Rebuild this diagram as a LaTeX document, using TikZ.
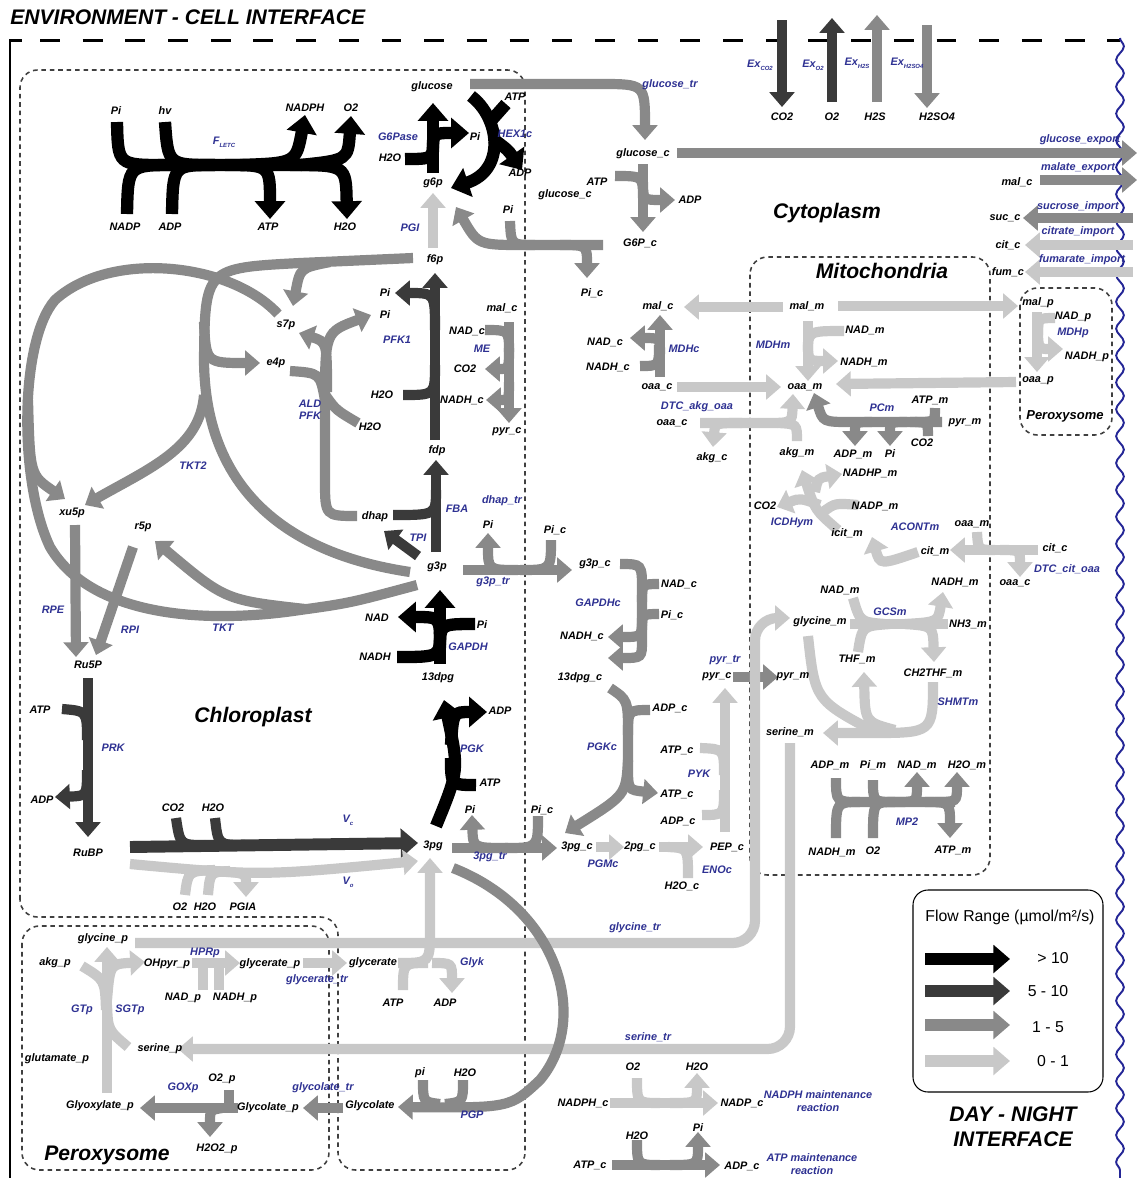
\documentclass[tikz,border=0pt]{standalone}
\usepackage{fontspec}
\setmainfont{Liberation Sans}
\usetikzlibrary{arrows.meta,decorations.pathmorphing}

\definecolor{fluxblack}{RGB}{0,0,0}
\definecolor{fluxdark}{RGB}{58,58,58}
\definecolor{fluxmed}{RGB}{137,137,137}
\definecolor{fluxlight}{RGB}{200,200,200}
\definecolor{enzblue}{RGB}{46,49,146}
\definecolor{compgray}{RGB}{64,64,64}
\definecolor{waveblue}{RGB}{36,38,150}

\newcommand\metfont{\fontsize{6.2}{7}\selectfont\bfseries\itshape}
\newcommand\bigfont{\fontsize{12}{14}\selectfont\bfseries\itshape}
\newcommand\midfont{\fontsize{7.4}{8}\selectfont\bfseries\itshape}
\newcommand\legfont{\fontsize{9}{10}\selectfont}
\newcommand\lsub[1]{\raisebox{-0.45ex}{\fontsize{3.4}{4}\selectfont #1}}

\tikzset{
  flux/.style = {line width=5.8pt},
  fblack/.style = {flux, draw=fluxblack, line width=7pt},
  fdark/.style = {flux, draw=fluxdark},
  fmed/.style = {flux, draw=fluxmed},
  flight/.style = {flux, draw=fluxlight},
  arr/.style = {-{Triangle[length=0pt 1.45, width=0pt 2.4]}},
  met/.style = {font=\metfont, inner sep=0.5pt},
  enz/.style = {met, text=enzblue},
  compart/.style = {draw=compgray, line width=0.9pt, dash pattern=on 2.6pt off 2.2pt, rounded corners=0.35cm},
  bigtitle/.style = {font=\bigfont, inner sep=0pt},
  legtext/.style = {font=\legfont, inner sep=0.5pt}
}

\begin{document}
\begin{tikzpicture}[x=0.02cm, y=-0.02cm]
  \useasboundingbox (0,0) rectangle (1137,1178);

  % environment frame
  \node[bigtitle, anchor=west] (envlbl) at (10,17) {ENVIRONMENT - CELL INTERFACE};
  \draw[line width=1.7pt] (10,1178) -- (10,40) -- (22,40);
  \draw[line width=1.7pt, dash pattern=on 11.3pt off 13pt] (40,40) -- (1120,40);
  \draw[waveblue, line width=1.1pt, decorate, decoration={snake, amplitude=2.2pt, segment length=15.3pt}] (1120,38) -- (1120,1178);

  % compartments
  \draw[compart] (20,917) -- (20,70) -- (525,70) -- (525,1170) -- (338,1170) -- (338,917) -- cycle;
  \draw[compart] (22,926) rectangle (329,1170);
  \draw[compart] (750,257) rectangle (990,875);
  \draw[compart] (1020,288) rectangle (1112,435);
  \draw[rounded corners=0.3cm, line width=0.6pt] (913,890) rectangle (1103,1092);

  % exchange fluxes
  \draw[fdark,arr] (782,20) -- (782,107);
  \draw[fdark,arr] (832,102) -- (832,18);
  \draw[fmed,arr] (877,102) -- (877,15);
  \draw[fmed,arr] (927,25) -- (927,108);

  % light reactions
  \draw[fblack] (117,122) .. controls (118,165) .. (165,165) -- (325,165);
  \draw[fblack] (165,122) .. controls (168,165) .. (215,165);
  \draw[fblack] (127,214) .. controls (128,165) .. (175,165);
  \draw[fblack] (172,214) .. controls (173,165) .. (215,165);
  \draw[fblack,arr] (225,165) .. controls (270,165) .. (270,219);
  \draw[fblack,arr] (240,165) .. controls (296,163) .. (305,115);
  \draw[fblack,arr] (290,165) .. controls (346,165) .. (347,219);
  \draw[fblack,arr] (300,165) .. controls (348,160) .. (351,116);

  % G6Pase and HEX1c
  \draw[fblack,arr] (433,173) -- (433,103);
  \draw[fblack] (405,159) .. controls (433,159) .. (433,140);
  \draw[fblack,arr] (433,152) .. controls (433,133) .. (469,133);
  \draw[fblack,arr] (471,96) .. controls (500,118) and (506,170) .. (451,188);
  \draw[fblack] (506,104) -- (490,122);
  \draw[fblack,arr] (492,138) .. controls (508,150) .. (522,170);
  \draw[flight,arr] (433,248) -- (433,193);

  % glucose transport and export
  \draw[fmed,arr] (470,84) -- (600,84) .. controls (645,84) .. (645,140);
  \draw[fmed,arr] (677,153) -- (1137,153);
  \draw[fmed,arr] (643,164) -- (643,232);
  \draw[fmed] (615,176) .. controls (643,176) .. (643,198);
  \draw[fmed,arr] (643,182) .. controls (643,200) .. (675,200);
  \draw[fmed,arr] (603,245) -- (525,245) .. controls (478,245) .. (456,207);
  \draw[fmed] (510,221) .. controls (511,245) .. (535,245);
  \draw[fmed,arr] (560,245) .. controls (587,245) .. (587,278);

  % malic enzyme
  \draw[fmed,arr] (509,322) -- (509,423);
  \draw[fmed] (485,330) .. controls (509,330) .. (509,352);
  \draw[fmed,arr] (509,348) .. controls (509,369) .. (485,369);
  \draw[fmed,arr] (509,382) .. controls (509,400) .. (486,400);

  % PFK1, ALD PFK, FBA, TPI
  \draw[fdark,arr] (435,440) -- (435,273);
  \draw[fdark,arr] (435,330) .. controls (435,293) .. (395,293);
  \draw[fdark] (403,395) .. controls (435,395) .. (435,365);
  \draw[fmed] (357,516) .. controls (325,516) .. (325,480) -- (325,395);
  \draw[fmed,arr] (325,405) .. controls (325,332) .. (371,315);
  \draw[fmed,arr] (327,392) .. controls (327,342) .. (299,333);
  \draw[fmed] (290,371) .. controls (320,373) .. (325,400);
  \draw[fmed] (358,423) .. controls (336,410) .. (326,396);
  \draw[fdark,arr] (436,552) -- (436,460);
  \draw[fdark] (393,515) .. controls (436,515) .. (436,490);
  \draw[fdark,arr] (418,556) -- (384,531);

  % transketolase cycle
  \draw[fmed] (413,258) -- (300,263) .. controls (205,268) .. (204,360) .. controls (205,520) and (330,560) .. (410,572);
  \draw[fmed,arr] (330,262) .. controls (300,268) .. (293,306);
  \draw[fmed,arr] (204,322) .. controls (206,363) .. (260,363);
  \draw[fmed,arr] (204,395) .. controls (200,448) and (150,468) .. (85,505);
  \draw[fmed] (278,314) .. controls (230,262) and (110,250) .. (55,300) .. controls (20,340) and (18,480) .. (50,547) .. controls (90,615) and (200,625) .. (300,610) .. controls (350,603) .. (417,585);
  \draw[fmed,arr] (28,400) .. controls (30,475) .. (65,499);
  \draw[fmed,arr] (305,609) .. controls (225,600) .. (155,541);
  \draw[fmed,arr] (75,525) -- (76,657);
  \draw[fmed,arr] (133,547) -- (96,655);

  % PRK and rubisco
  \draw[fdark,arr] (88,678) -- (88,837);
  \draw[fdark] (62,709) .. controls (87,711) .. (87,740);
  \draw[fdark,arr] (87,770) .. controls (87,796) .. (55,797);
  \draw[fdark,line width=6.8pt,arr] (130,847) -- (418,843);
  \draw[fdark] (176,818) .. controls (180,845) .. (205,845);
  \draw[fdark] (215,818) .. controls (218,845) .. (245,845);
  \draw[flight,arr] (130,864) .. controls (260,876) .. (418,861);
  \draw[flight] (185,895) .. controls (188,871) .. (215,870);
  \draw[flight] (208,895) .. controls (210,872) .. (230,871);
  \draw[flight,arr] (215,871) .. controls (246,873) .. (246,897);

  % PGK and GAPDH
  \draw[fblack,arr] (436,826) .. controls (459,770) .. (444,700);
  \draw[fblack,arr] (451,745) .. controls (453,712) .. (487,712);
  \draw[fblack] (476,785) .. controls (451,785) .. (451,758);
  \draw[fblack,arr] (440,664) -- (440,590);
  \draw[fblack,arr] (440,645) .. controls (440,617) .. (398,617);
  \draw[fblack] (475,624) .. controls (440,624) .. (440,648);
  \draw[fblack] (397,657) .. controls (440,657) .. (440,632);

  % triose and 3pg transport
  \draw[fmed,arr] (452,848) -- (557,848);
  \draw[fmed,arr] (508,848) .. controls (473,848) .. (472,815);
  \draw[fmed] (538,816) .. controls (538,848) .. (505,848);
  \draw[fmed,arr] (463,570) -- (572,570);
  \draw[fmed,arr] (518,570) .. controls (488,570) .. (488,533);
  \draw[fmed] (551,540) .. controls (551,570) .. (520,570);

  % cytosolic glycolysis
  \draw[fmed,arr] (620,564) .. controls (642,564) .. (642,590) -- (642,640) .. controls (642,658) .. (608,658);
  \draw[fmed] (659,584) .. controls (642,584) .. (642,602);
  \draw[fmed] (659,614) .. controls (642,614) .. (642,630);
  \draw[fmed,arr] (642,618) .. controls (642,637) .. (608,637);
  \draw[fmed,arr] (610,688) .. controls (628,700) .. (628,735) -- (628,765) .. controls (628,790) .. (658,793);
  \draw[fmed,arr] (628,760) .. controls (626,795) .. (565,833);
  \draw[fmed] (650,710) .. controls (628,710) .. (628,735);
  \draw[flight,arr] (596,847) -- (624,847);
  \draw[flight,arr] (659,847) -- (703,847);
  \draw[flight] (688,878) .. controls (688,848) .. (668,847);
  \draw[flight,arr] (725,832) -- (725,688);
  \draw[flight] (700,748) .. controls (724,749) .. (724,775);
  \draw[flight] (702,815) .. controls (724,815) .. (724,790);
  \draw[fmed,arr] (733,677) -- (778,677);

  % malate and oaa
  \draw[fmed,arr] (660,377) -- (660,315);
  \draw[fmed,arr] (660,354) .. controls (660,338) .. (630,338);
  \draw[fmed] (640,366) .. controls (659,366) .. (659,345);
  \draw[flight,arr] (783,307) -- (684,307);
  \draw[flight,arr] (838,306) -- (1018,306);
  \draw[flight,arr] (808,321) -- (808,381);
  \draw[flight] (844,331) .. controls (808,331) .. (808,352);
  \draw[flight,arr] (808,342) .. controls (808,361) .. (838,361);
  \draw[flight,arr] (677,387) -- (781,387);
  \draw[flight,arr] (1016,382) -- (836,384);
  \draw[flight,arr] (700,423) -- (765,423) .. controls (792,423) .. (793,394);
  \draw[flight] (797,441) .. controls (797,424) .. (778,423);
  \draw[flight,arr] (742,423) .. controls (715,423) .. (713,447);

  % mitochondrial reactions
  \draw[fmed,arr] (942,422) -- (852,422) .. controls (823,422) .. (814,393);
  \draw[fmed] (935,408) .. controls (935,422) .. (915,422);
  \draw[fmed] (928,436) .. controls (928,422) .. (910,422);
  \draw[fmed,arr] (872,422) .. controls (855,422) .. (855,446);
  \draw[fmed,arr] (907,422) .. controls (890,422) .. (890,446);
  \draw[flight,arr] (838,530) .. controls (815,510) .. (802,470);
  \draw[flight,arr] (820,505) .. controls (800,498) .. (777,507);
  \draw[flight,arr] (815,492) .. controls (818,478) .. (842,474);
  \draw[flight] (858,505) .. controls (835,503) .. (823,512);
  \draw[flight,arr] (918,552) .. controls (880,565) .. (872,537);
  \draw[flight,arr] (1038,550) -- (950,550);
  \draw[flight] (977,532) .. controls (978,550) .. (995,550);
  \draw[flight,arr] (1000,550) .. controls (1020,550) .. (1020,577);
  \draw[flight] (850,624) -- (948,624);
  \draw[flight,arr] (905,624) .. controls (938,622) .. (943,592);
  \draw[flight] (853,598) .. controls (860,622) .. (885,624);
  \draw[flight] (858,652) .. controls (862,626) .. (890,624);
  \draw[flight,arr] (905,624) .. controls (933,626) .. (934,662);
  \draw[flight,arr] (933,682) .. controls (933,733) .. (870,733) -- (823,733);
  \draw[flight] (808,636) .. controls (815,700) .. (875,732);
  \draw[flight,arr] (895,730) .. controls (865,722) .. (864,672);
  \draw[fmed] (836,778) .. controls (836,802) .. (860,802) -- (955,802);
  \draw[fmed] (836,838) .. controls (836,802) .. (860,802);
  \draw[fmed] (873,780) .. controls (873,802) .. (895,802);
  \draw[fmed] (873,838) .. controls (873,802) .. (895,802);
  \draw[fmed,arr] (895,802) .. controls (917,802) .. (917,772);
  \draw[fmed,arr] (935,802) .. controls (957,802) .. (957,772);
  \draw[fmed,arr] (925,802) .. controls (950,802) .. (950,838);

  % glycine and serine shuttle
  \draw[flight,arr,rounded corners=0.45cm] (135,943) -- (755,943) -- (755,618) -- (790,618);
  \draw[flight,arr,rounded corners=0.45cm] (790,743) -- (790,1049) -- (178,1049);

  % photorespiration
  \draw[flight,arr] (398,963) .. controls (430,963) .. (430,930) -- (430,858);
  \draw[flight] (403,990) .. controls (403,963) .. (428,963);
  \draw[flight,arr] (432,963) .. controls (452,963) .. (452,993);
  \draw[flight,arr] (303,963) -- (347,963);
  \draw[flight,arr] (192,963) -- (240,963);
  \draw[flight] (203,990) -- (203,963);
  \draw[flight] (219,990) -- (219,963);
  \draw[flight,arr] (107,1093) -- (107,947);
  \draw[flight] (82,966) .. controls (105,980) .. (106,1010);
  \draw[flight,arr] (107,1000) .. controls (110,964) .. (145,962);
  \draw[flight] (128,1047) .. controls (108,1030) .. (107,1005);
  \draw[fmed,arr] (238,1108) -- (140,1108);
  \draw[fmed] (229,1090) -- (229,1108);
  \draw[fmed,arr] (222,1108) .. controls (210,1110) .. (210,1137);
  \draw[fmed,arr] (343,1108) -- (303,1108);
  \draw[fmed,arr] (453,868) .. controls (560,910) and (590,1020) .. (540,1080) .. controls (510,1108) .. (398,1107);
  \draw[fmed] (423,1080) .. controls (423,1102) .. (440,1104);
  \draw[fmed] (463,1080) .. controls (463,1102) .. (445,1104);

  % maintenance reactions
  \draw[flight,arr] (610,1103) -- (718,1103);
  \draw[flight] (637,1078) .. controls (637,1103) .. (660,1103);
  \draw[flight,arr] (670,1103) .. controls (697,1103) .. (697,1073);
  \draw[fmed,arr] (612,1165) -- (720,1165);
  \draw[fmed] (637,1140) .. controls (637,1165) .. (660,1165);
  \draw[fmed,arr] (670,1165) .. controls (698,1165) .. (698,1132);

  % day-night exchanges
  \draw[fmed,arr] (1040,180) -- (1137,180);
  \draw[fmed,arr] (1133,218) -- (1023,218);
  \draw[flight,arr] (1133,245) -- (1025,245);
  \draw[flight,arr] (1133,272) -- (1025,272);
  \draw[flight,arr] (1037,312) -- (1037,372);
  \draw[flight] (1055,318) .. controls (1038,318) .. (1038,335);
  \draw[flight,arr] (1038,325) .. controls (1038,349) .. (1063,349);

  % legend
  \draw[fblack,line width=6.5pt,arr] (925,959) -- (1010,959);
  \draw[fdark,line width=6.5pt,arr] (925,991) -- (1010,991);
  \draw[fmed,line width=6.5pt,arr] (925,1025) -- (1010,1025);
  \draw[flight,line width=6.5pt,arr] (925,1061) -- (1010,1061);
  \node[legtext] (flowlbl) at (1010,917) {Flow Range (µmol/m²/s)};
  \node[legtext] (leg1) at (1053,958) {> 10};
  \node[legtext] (leg2) at (1048,991) {5 - 10};
  \node[legtext] (leg3) at (1048,1027) {1 - 5};
  \node[legtext] (leg4) at (1053,1061) {0 - 1};
  \node[bigtitle, align=center] (daynight) at (1013,1127) {DAY - NIGHT\\INTERFACE};

  % chloroplast labels
  \node[met] (lpi) at (116,111) {Pi};
  \node[met] (lhv) at (165,111) {hv};
  \node[met] (lnadph) at (305,108) {NADPH};
  \node[met] (lo2) at (351,108) {O2};
  \node[met] (lnadp) at (125,227) {NADP};
  \node[met] (ladp) at (170,227) {ADP};
  \node[met] (latp) at (268,227) {ATP};
  \node[met] (lh2o) at (345,227) {H2O};
  \node[enz] (fletc) at (224,142) {F\lsub{LETC}};
  \node[met] (glc) at (432,87) {glucose};
  \node[met] (hexatp) at (515,97) {ATP};
  \node[met] (g6ppi) at (475,137) {Pi};
  \node[enz] (g6pase) at (398,137) {G6Pase};
  \node[enz] (hex1c) at (515,134) {HEX1c};
  \node[met] (g6ph2o) at (390,158) {H2O};
  \node[met] (g6p) at (433,183) {g6p};
  \node[met] (hexadp) at (520,173) {ADP};
  \node[met] (g6tpi) at (508,210) {Pi};
  \node[enz] (pgi) at (410,228) {PGI};
  \node[met] (f6p) at (435,260) {f6p};
  \node[met] (pfkpi) at (385,293) {Pi};
  \node[met] (aldpi) at (385,315) {Pi};
  \node[met] (s7p) at (286,325) {s7p};
  \node[met] (e4p) at (276,363) {e4p};
  \node[enz] (pfk1) at (397,340) {PFK1};
  \node[met] (pfkh2o) at (382,395) {H2O};
  \node[enz, align=center] (aldpfk) at (310,410) {ALD\\PFK};
  \node[met] (aldh2o) at (370,427) {H2O};
  \node[met] (fdp) at (437,451) {fdp};
  \node[enz] (tkt2) at (193,466) {TKT2};
  \node[met] (xu5p) at (72,513) {xu5p};
  \node[met] (r5p) at (143,527) {r5p};
  \node[met] (dhap) at (375,517) {dhap};
  \node[enz] (fba) at (457,509) {FBA};
  \node[enz] (dhaptr) at (502,501) {dhap\_tr};
  \node[enz] (tpi) at (418,538) {TPI};
  \node[met] (g3ppi) at (488,525) {Pi};
  \node[met] (g3ppic) at (555,530) {Pi\_c};
  \node[met] (g3p) at (437,567) {g3p};
  \node[enz] (g3ptr) at (493,582) {g3p\_tr};
  \node[met] (gapnad) at (377,618) {NAD};
  \node[met] (gappi) at (482,625) {Pi};
  \node[met] (gapnadh) at (375,657) {NADH};
  \node[enz] (gapdh) at (468,647) {GAPDH};
  \node[met] (dpg) at (438,678) {13dpg};
  \node[enz] (rpe) at (53,610) {RPE};
  \node[enz] (rpi) at (130,630) {RPI};
  \node[enz] (tkt) at (223,628) {TKT};
  \node[met] (ru5p) at (88,665) {Ru5P};
  \node[met] (prkatp) at (40,710) {ATP};
  \node[bigtitle] (chloro) at (253,717) {Chloroplast};
  \node[met] (pgkadp) at (500,711) {ADP};
  \node[enz] (prk) at (113,748) {PRK};
  \node[enz] (pgk) at (472,749) {PGK};
  \node[met] (pgkatp) at (490,783) {ATP};
  \node[met] (prkadp) at (42,800) {ADP};
  \node[met] (vcco2) at (173,808) {CO2};
  \node[met] (vch2o) at (213,808) {H2O};
  \node[met] (pgapi) at (470,810) {Pi};
  \node[met] (pgapic) at (542,810) {Pi\_c};
  \node[enz] (vc) at (348,820) {V\lsub{c}};
  \node[met] (rubp) at (88,853) {RuBP};
  \node[met] (pga) at (433,846) {3pg};
  \node[enz] (pgatr) at (490,857) {3pg\_tr};
  \node[enz] (vo) at (348,882) {V\lsub{o}};
  \node[met] (voo2) at (180,907) {O2};
  \node[met] (voh2o) at (205,907) {H2O};
  \node[met] (pgia) at (243,907) {PGIA};

  % cytoplasm labels
  \node[bigtitle] (cyto) at (827,213) {Cytoplasm};
  \node[enz] (glctr) at (670,85) {glucose\_tr};
  \node[met] (glcc) at (643,154) {glucose\_c};
  \node[met] (hexcatp) at (597,182) {ATP};
  \node[met] (glcc2) at (565,195) {glucose\_c};
  \node[met] (hexcadp) at (690,200) {ADP};
  \node[met] (g6pc) at (640,243) {G6P\_c};
  \node[met] (pic) at (592,293) {Pi\_c};
  \node[met] (malc) at (658,306) {mal\_c};
  \node[met] (mdhcnad) at (605,342) {NAD\_c};
  \node[enz] (mdhc) at (684,349) {MDHc};
  \node[met] (mdhcnadh) at (608,367) {NADH\_c};
  \node[met] (oaac) at (657,387) {oaa\_c};
  \node[enz] (dtcakg) at (697,407) {DTC\_akg\_oaa};
  \node[met] (oaac2) at (672,423) {oaa\_c};
  \node[met] (akgc) at (712,458) {akg\_c};
  \node[met] (memalc) at (502,308) {mal\_c};
  \node[met] (menadc) at (467,331) {NAD\_c};
  \node[enz] (me) at (482,349) {ME};
  \node[met] (meco2) at (465,369) {CO2};
  \node[met] (menadhc) at (462,400) {NADH\_c};
  \node[met] (pyrc) at (507,432) {pyr\_c};
  \node[met] (g3pc) at (595,564) {g3p\_c};
  \node[met] (gapcnad) at (679,584) {NAD\_c};
  \node[enz] (gapdhc) at (598,603) {GAPDHc};
  \node[met] (gapcpi) at (672,615) {Pi\_c};
  \node[met] (gapcnadh) at (582,636) {NADH\_c};
  \node[met] (dpgc) at (580,678) {13dpg\_c};
  \node[enz] (pyrtr) at (725,660) {pyr\_tr};
  \node[met] (pyrc2) at (717,677) {pyr\_c};
  \node[met] (pgkcadp) at (670,708) {ADP\_c};
  \node[enz] (pgkc) at (602,747) {PGKc};
  \node[met] (pykatp) at (677,750) {ATP\_c};
  \node[enz] (pyk) at (699,774) {PYK};
  \node[met] (pgkcatp) at (677,794) {ATP\_c};
  \node[met] (pykadp) at (678,821) {ADP\_c};
  \node[met] (pgac) at (577,847) {3pg\_c};
  \node[met] (pgc2) at (640,847) {2pg\_c};
  \node[met] (pepc) at (727,847) {PEP\_c};
  \node[enz] (pgmc) at (603,864) {PGMc};
  \node[enz] (enoc) at (717,870) {ENOc};
  \node[met] (enoh2o) at (682,886) {H2O\_c};
  \node[enz] (glytr) at (635,928) {glycine\_tr};
  \node[enz] (sertr) at (648,1037) {serine\_tr};
  \node[met] (nmo2) at (633,1067) {O2};
  \node[met] (nmh2o) at (697,1067) {H2O};
  \node[met] (nadphc) at (583,1103) {NADPH\_c};
  \node[met] (nadpc) at (742,1103) {NADP\_c};
  \node[enz, align=center] (nadphm) at (818,1101) {NADPH maintenance\\reaction};
  \node[met] (amh2o) at (637,1136) {H2O};
  \node[met] (ampi) at (698,1128) {Pi};
  \node[met] (atpc) at (590,1165) {ATP\_c};
  \node[met] (adpc) at (742,1166) {ADP\_c};
  \node[enz, align=center] (atpm) at (812,1164) {ATP maintenance\\reaction};

  % exchange labels
  \node[enz] (exco2) at (760,65) {Ex\lsub{CO2}};
  \node[enz] (exo2) at (813,65) {Ex\lsub{O2}};
  \node[enz] (exh2s) at (857,63) {Ex\lsub{H2S}};
  \node[enz] (exh2so4) at (907,63) {Ex\lsub{H2SO4}};
  \node[met] (eco2) at (782,117) {CO2};
  \node[met] (eo2) at (832,117) {O2};
  \node[met] (eh2s) at (875,117) {H2S};
  \node[met] (eh2so4) at (937,117) {H2SO4};
  \node[enz] (glcexp) at (1080,140) {glucose\_export};
  \node[enz] (malexp) at (1078,168) {malate\_export};
  \node[met] (malc3) at (1017,182) {mal\_c};
  \node[enz] (sucimp) at (1078,207) {sucrose\_import};
  \node[met] (succ) at (1005,218) {suc\_c};
  \node[enz] (citimp) at (1078,232) {citrate\_import};
  \node[met] (citc) at (1008,245) {cit\_c};
  \node[enz] (fumimp) at (1082,260) {fumarate\_import};
  \node[met] (fumc) at (1008,272) {fum\_c};

  % mitochondria labels
  \node[bigtitle] (mito) at (882,271) {Mitochondria};
  \node[met] (malm) at (807,306) {mal\_m};
  \node[met] (mdhmnad) at (865,330) {NAD\_m};
  \node[enz] (mdhm) at (773,345) {MDHm};
  \node[met] (mdhmnadh) at (864,362) {NADH\_m};
  \node[met] (oaam) at (805,387) {oaa\_m};
  \node[enz] (pcm) at (882,408) {PCm};
  \node[met] (pcmatp) at (930,400) {ATP\_m};
  \node[met] (pyrm) at (965,423) {pyr\_m};
  \node[met] (akgm) at (797,453) {akg\_m};
  \node[met] (pcmadp) at (853,454) {ADP\_m};
  \node[met] (pcmpi) at (890,454) {Pi};
  \node[met] (pcmco2) at (922,443) {CO2};
  \node[met] (nadhpm) at (870,473) {NADHP\_m};
  \node[met] (nadpm) at (875,506) {NADP\_m};
  \node[met] (icdco2) at (765,506) {CO2};
  \node[enz] (icdhym) at (792,523) {ICDHym};
  \node[met] (icitm) at (847,533) {icit\_m};
  \node[enz] (acontm) at (915,527) {ACONTm};
  \node[met] (oaam2) at (972,524) {oaa\_m};
  \node[met] (citm) at (935,551) {cit\_m};
  \node[met] (citc2) at (1055,548) {cit\_c};
  \node[enz] (dtccit) at (1067,569) {DTC\_cit\_oaa};
  \node[met] (oaac3) at (1015,583) {oaa\_c};
  \node[met] (gcsnad) at (840,590) {NAD\_m};
  \node[met] (gcsnadh) at (955,582) {NADH\_m};
  \node[enz] (gcsm) at (890,612) {GCSm};
  \node[met] (glym) at (820,622) {glycine\_m};
  \node[met] (nh3m) at (968,624) {NH3\_m};
  \node[met] (thfm) at (857,659) {THF\_m};
  \node[met] (ch2thfm) at (933,673) {CH2THF\_m};
  \node[met] (pyrm2) at (793,677) {pyr\_m};
  \node[enz] (shmtm) at (958,702) {SHMTm};
  \node[met] (serm) at (790,732) {serine\_m};
  \node[met] (mpadp) at (830,765) {ADP\_m};
  \node[met] (mppi) at (873,765) {Pi\_m};
  \node[met] (mpnad) at (917,765) {NAD\_m};
  \node[met] (mph2o) at (967,765) {H2O\_m};
  \node[enz] (mp2) at (907,822) {MP2};
  \node[met] (mpnadh) at (832,852) {NADH\_m};
  \node[met] (mpo2) at (873,851) {O2};
  \node[met] (mpatp) at (953,850) {ATP\_m};

  % right peroxysome labels
  \node[met] (malp) at (1038,303) {mal\_p};
  \node[met] (mdhpnad) at (1073,317) {NAD\_p};
  \node[enz] (mdhp) at (1073,333) {MDHp};
  \node[met] (mdhpnadh) at (1087,357) {NADH\_p};
  \node[met] (oaap) at (1038,381) {oaa\_p};
  \node[font=\midfont, inner sep=0pt] (perox2) at (1065,416) {Peroxysome};

  % peroxysome labels
  \node[met] (glyp) at (103,939) {glycine\_p};
  \node[met] (akgp) at (55,963) {akg\_p};
  \node[met] (ohpyrp) at (167,964) {OHpyr\_p};
  \node[enz] (hprp) at (205,953) {HPRp};
  \node[met] (glyceratep) at (270,964) {glycerate\_p};
  \node[met] (glycerate) at (373,963) {glycerate};
  \node[enz] (glyk) at (472,963) {Glyk};
  \node[enz] (glyctr) at (317,980) {glycerate\_tr};
  \node[met] (hprnad) at (183,998) {NAD\_p};
  \node[met] (hprnadh) at (235,998) {NADH\_p};
  \node[met] (glykatp) at (393,1003) {ATP};
  \node[met] (glykadp) at (445,1003) {ADP};
  \node[enz] (gtp) at (82,1010) {GTp};
  \node[enz] (sgtp) at (130,1010) {SGTp};
  \node[met] (serp) at (160,1049) {serine\_p};
  \node[met] (glup) at (57,1059) {glutamate\_p};
  \node[met] (o2p) at (222,1079) {O2\_p};
  \node[enz] (goxp) at (183,1088) {GOXp};
  \node[enz] (glyctr2) at (323,1088) {glycolate\_tr};
  \node[met] (pgppi) at (420,1073) {pi};
  \node[met] (pgph2o) at (465,1073) {H2O};
  \node[met] (glyoxp) at (100,1106) {Glyoxylate\_p};
  \node[met] (glycolp) at (268,1108) {Glycolate\_p};
  \node[met] (glycol) at (370,1106) {Glycolate};
  \node[enz] (pgp) at (472,1115) {PGP};
  \node[met] (h2o2p) at (217,1149) {H2O2\_p};
  \node[bigtitle] (perox) at (107,1155) {Peroxysome};
\end{tikzpicture}
\end{document}
